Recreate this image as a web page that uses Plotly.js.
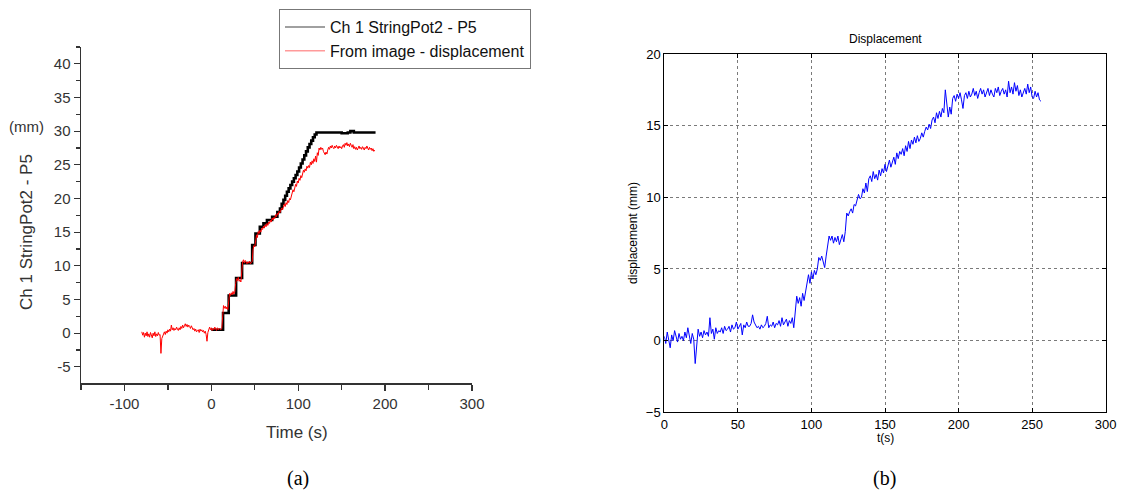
<!DOCTYPE html>
<html>
<head>
<meta charset="utf-8">
<script src="https://cdn.plot.ly/plotly-3.0.1.min.js"></script>
<style>html,body{margin:0;padding:0;background:#fff;}#chart{width:1137px;height:493px;}</style>
</head>
<body>
<div id="chart"></div>
<script>
// ---- Panel (a): Ch 1 StringPot2 - P5 (black, step record) ----
var blackTime = [0, 13.5, 20, 28.5, 35.4, 47, 50.8, 55.8, 60, 64, 70, 76, 79, 81, 83, 85, 87, 89, 91, 93, 95, 97, 99, 101, 103, 105, 107, 109, 111, 113, 115, 117, 119, 121, 140, 150, 157, 160, 164, 175, 189];
var blackDisp = [0.5, 3.0, 5.6, 8.2, 10.4, 13.1, 14.8, 15.8, 16.3, 16.8, 17.3, 18.0, 18.5, 19.2, 19.8, 20.4, 21.0, 21.5, 22.0, 22.5, 23.0, 23.5, 24.0, 24.6, 25.2, 25.8, 26.4, 27.0, 27.6, 28.1, 28.6, 29.1, 29.5, 29.8, 29.8, 29.7, 29.8, 30.0, 29.8, 29.8, 29.8];

// ---- Panel (a): From image - displacement (red), sampled every 1 s from t = -80 s ----
var redStart = -80;
var redStep = 1;
var redDisp = [
 0.2,-0.3,0.1,-0.6,0.0,-0.4,0.2,-0.5,-0.1,-0.6,
 0.1,-0.3,-0.7,0.0,-0.4,0.2,-0.5,-0.1,-0.4,0.1,
 -0.3,-0.2,-3.0,-0.8,-0.4,-0.1,0.2,-0.2,0.3,0.0,
 0.5,0.2,0.6,0.3,1.2,0.5,0.8,0.4,0.7,0.5,
 0.9,0.6,0.4,0.8,0.5,1.0,0.7,1.2,0.8,1.1,
 1.4,1.0,1.3,0.9,1.2,1.0,0.7,1.1,0.8,0.5,
 0.7,0.3,0.6,0.2,0.4,0.5,0.1,0.6,0.3,0.5,
 0.2,0.4,0.0,0.3,-0.2,-1.2,0.1,0.6,0.9,0.5,
 0.8,0.4,0.7,0.5,0.9,0.6,0.4,0.8,0.5,0.7,
 0.6,0.5,0.7,3.6,4.1,3.7,4.0,3.6,3.9,3.5,
 5.4,5.9,5.6,6.0,5.7,6.2,5.8,6.1,7.4,8.1,
 7.8,8.3,7.7,7.9,7.6,9.8,10.6,10.9,10.4,10.8,
 10.5,10.3,10.6,10.4,10.7,10.3,10.5,10.6,12.4,13.0,
 12.8,13.5,14.6,14.2,15.1,14.8,15.3,15.0,15.6,15.4,
 15.9,15.6,16.1,15.8,16.3,16.0,16.5,16.3,16.8,16.5,
 17.1,16.8,17.2,17.0,17.6,17.3,17.8,17.6,18.1,17.9,
 18.4,18.6,18.3,18.9,19.2,18.8,19.4,19.1,19.7,19.4,
 20.0,19.8,20.5,20.9,21.3,21.0,21.7,22.1,21.8,22.6,
 22.3,23.0,22.7,23.4,23.1,23.8,24.2,23.9,24.4,24.1,
 24.8,24.5,24.9,24.6,25.4,25.0,25.6,25.2,25.9,25.5,
 26.3,25.4,26.8,26.4,27.5,27.2,27.6,27.3,27.5,27.0,
 26.7,26.5,26.9,26.6,27.2,27.6,27.3,27.8,27.5,27.9,
 27.6,27.4,27.8,27.5,27.9,27.6,27.4,27.8,27.5,27.7,
 27.4,27.8,28.0,27.6,28.2,27.9,28.3,27.8,28.1,27.7,
 28.2,27.9,27.6,28.0,27.4,27.7,27.3,27.6,27.2,27.5,
 27.8,27.4,27.6,27.3,27.7,27.5,27.2,27.6,27.4,27.8,
 27.5,27.2,27.6,27.3,27.5,27.1,27.4,27.0,27.2
];

// ---- Panel (b): Displacement (blue), sampled every 1 s from t = 0 s ----
var blueStart = 0;
var blueStep = 1;
var blueDisp = [
 0.3,-0.2,0.6,0.1,-0.5,0.4,0.0,0.7,0.2,-0.1,
 0.5,0.1,0.3,0.0,0.6,0.2,0.9,0.3,-0.2,0.5,
 0.1,-1.6,-0.3,0.8,0.3,0.6,0.2,0.7,0.4,0.6,
 0.3,1.6,0.5,0.8,0.1,0.9,0.5,0.7,0.6,0.9,
 0.5,1.0,0.7,0.8,1.0,0.6,1.1,0.8,0.9,1.3,
 0.8,1.0,1.2,0.4,1.1,0.9,1.3,1.0,1.0,1.2,
 1.8,1.3,1.1,0.9,1.0,0.8,1.1,0.9,1.0,1.2,
 1.7,0.9,1.1,1.0,1.3,0.9,1.2,1.1,1.4,1.0,
 1.6,1.1,1.3,1.5,1.0,1.4,1.2,1.6,0.9,2.2,
 3.1,2.6,3.0,2.4,3.3,2.8,3.5,3.9,4.6,4.0,
 4.8,4.3,4.9,4.6,5.0,5.8,5.6,5.9,5.4,5.1,
 5.9,6.6,7.3,7.0,7.3,6.8,7.2,6.9,7.3,6.7,
 7.1,7.4,6.9,7.6,8.9,8.7,9.0,9.2,8.9,9.5,
 9.4,9.8,10.2,9.9,10.0,10.6,10.3,11.0,10.4,11.3,
 11.5,11.1,11.8,11.3,11.6,11.2,11.9,11.5,12.0,11.7,
 12.3,11.8,12.2,12.6,12.1,12.4,12.8,12.3,13.1,12.7,
 13.2,13.0,13.4,12.9,13.6,13.2,13.9,13.4,14.0,13.7,
 14.2,13.8,14.3,13.9,14.1,14.5,14.2,14.6,14.9,14.7,
 15.1,14.8,15.4,15.6,15.2,15.9,15.5,16.0,15.6,16.2,
 15.9,17.5,16.4,15.6,16.3,15.8,16.9,17.1,16.7,17.2,
 16.9,17.3,16.8,16.2,17.1,17.3,16.9,17.4,17.0,17.2,
 17.6,17.1,17.4,16.9,17.3,17.6,17.2,17.5,17.0,17.4,
 17.6,17.1,17.5,17.2,17.0,17.6,17.3,17.7,17.1,17.4,
 17.6,17.2,17.5,17.0,18.1,17.3,17.7,17.2,18.0,17.4,
 17.8,17.1,17.5,17.0,17.4,17.6,17.2,17.9,17.3,17.7,
 17.0,16.9,17.4,17.0,17.3,16.8,16.7
];

var legendNames = ["Ch 1 StringPot2 - P5", "From image - displacement"];
var xTicksA = [-100, 0, 100, 200, 300];
var yTicksA = [-5, 0, 5, 10, 15, 20, 25, 30, 35, 40];

var traces = [
  {type:'scatter', mode:'lines', x: blackTime, y: blackDisp, line:{color:'#000000', width:2.6, shape:'hv'},
   xaxis:'x', yaxis:'y', showlegend:false, hoverinfo:'skip'},
  {type:'scatter', mode:'lines', x0: redStart, dx: redStep, y: redDisp, line:{color:'#ff0000', width:1},
   xaxis:'x', yaxis:'y', showlegend:false, hoverinfo:'skip'},
  {type:'scatter', mode:'lines', x:[null], y:[null], name: legendNames[0], line:{color:'#808080', width:1.5},
   xaxis:'x', yaxis:'y', showlegend:true},
  {type:'scatter', mode:'lines', x:[null], y:[null], name: legendNames[1], line:{color:'#ff9a9a', width:1.5},
   xaxis:'x', yaxis:'y', showlegend:true},
  {type:'scatter', mode:'lines', x0: blueStart, dx: blueStep, y: blueDisp, line:{color:'#0000ff', width:1},
   xaxis:'x2', yaxis:'y2', showlegend:false, hoverinfo:'skip'}
];

var W = 1137, H = 493;
function px(x){ return x / W; }
function py(y){ return 1 - y / H; }

var fontA = {family:'Arial, "Liberation Sans", sans-serif', size:15, color:'#333333'};
var fontB = {family:'Helvetica, Arial, "Liberation Sans", sans-serif', size:13, color:'#000000'};

var layout = {
  width: W, height: H,
  margin:{l:0, r:0, t:0, b:0},
  paper_bgcolor:'#ffffff', plot_bgcolor:'rgba(0,0,0,0)',
  showlegend: true,
  legend:{x: px(279), y: py(9), xanchor:'left', yanchor:'top', bgcolor:'#ffffff',
          bordercolor:'#777777', borderwidth:1,
          font:{family:'Arial, "Liberation Sans", sans-serif', size:16, color:'#111111'},
          tracegroupgap:0, itemwidth:40},
  xaxis:{domain:[px(81), px(472)], range:[-150, 300], tickvals: xTicksA, ticktext: xTicksA.map(String),
         showline:true, linecolor:'#333333', linewidth:1.5, ticks:'outside', ticklen:6, tickwidth:1.3, tickcolor:'#333333',
         minor:{tickvals:[-150,-50,50,150,250], ticks:'outside', ticklen:5, tickcolor:'#333333', tickwidth:1.3},
         showgrid:false, zeroline:false, tickfont: fontA, anchor:'y', fixedrange:true},
  yaxis:{domain:[py(383), py(47)], range:[-7.4, 42.5], tickvals: yTicksA, ticktext: yTicksA.map(String),
         showline:true, linecolor:'#333333', linewidth:1.5, ticks:'outside', ticklen:6, tickwidth:1.3, tickcolor:'#333333',
         minor:{dtick:2.5, ticks:'outside', ticklen:4, tickcolor:'#333333', tickwidth:1.3},
         showgrid:false, zeroline:false, tickfont: fontA, anchor:'x', fixedrange:true},
  xaxis2:{domain:[px(664.3), px(1105.7)], range:[0, 300], dtick:50, tick0:0,
          showline:true, mirror:'ticks', linecolor:'#000000', linewidth:1, ticks:'inside', ticklen:4, tickcolor:'#000000',
          showgrid:true, gridcolor:'#7a7a7a', griddash:'dot', gridwidth:1,
          zeroline:false, tickfont: fontB, anchor:'y2', fixedrange:true},
  yaxis2:{domain:[py(412.3), py(54)], range:[-5, 20], dtick:5, tick0:0,
          showline:true, mirror:'ticks', linecolor:'#000000', linewidth:1, ticks:'inside', ticklen:4, tickcolor:'#000000',
          showgrid:true, gridcolor:'#7a7a7a', griddash:'dot', gridwidth:1,
          zeroline:false, tickfont: fontB, anchor:'x2', fixedrange:true},
  annotations:[
    {text:'Ch 1 StringPot2 - P5', xref:'paper', yref:'paper', x: px(26), y: py(232), textangle:-90,
     showarrow:false, xanchor:'center', yanchor:'middle', font:{family:'Arial, "Liberation Sans", sans-serif', size:17, color:'#333333'}},
    {text:'(mm)', xref:'paper', yref:'paper', x: px(27), y: py(127), showarrow:false, xanchor:'center', yanchor:'middle',
     font:{family:'Arial, "Liberation Sans", sans-serif', size:15, color:'#333333'}},
    {text:'Time (s)', xref:'paper', yref:'paper', x: px(297), y: py(432), showarrow:false, xanchor:'center', yanchor:'middle',
     font:{family:'Arial, "Liberation Sans", sans-serif', size:17, color:'#333333'}},
    {text:'Displacement', xref:'paper', yref:'paper', x: px(885), y: py(39), showarrow:false, xanchor:'center', yanchor:'middle',
     font:{family:'Helvetica, Arial, "Liberation Sans", sans-serif', size:12, color:'#000000'}},
    {text:'t(s)', xref:'paper', yref:'paper', x: px(885), y: py(438), showarrow:false, xanchor:'center', yanchor:'middle',
     font:{family:'Helvetica, Arial, "Liberation Sans", sans-serif', size:12, color:'#000000'}},
    {text:'displacement (mm)', xref:'paper', yref:'paper', x: px(633), y: py(233), textangle:-90, showarrow:false,
     xanchor:'center', yanchor:'middle', font:{family:'Helvetica, Arial, "Liberation Sans", sans-serif', size:12, color:'#000000'}},
    {text:'(a)', xref:'paper', yref:'paper', x: px(298), y: py(478), showarrow:false, xanchor:'center', yanchor:'middle',
     font:{family:'"Liberation Serif", "Times New Roman", serif', size:20, color:'#000000'}},
    {text:'(b)', xref:'paper', yref:'paper', x: px(884), y: py(478), showarrow:false, xanchor:'center', yanchor:'middle',
     font:{family:'"Liberation Serif", "Times New Roman", serif', size:20, color:'#000000'}}
  ]
};

Plotly.newPlot('chart', traces, layout, {displayModeBar:false, staticPlot:true});
</script>
</body>
</html>
